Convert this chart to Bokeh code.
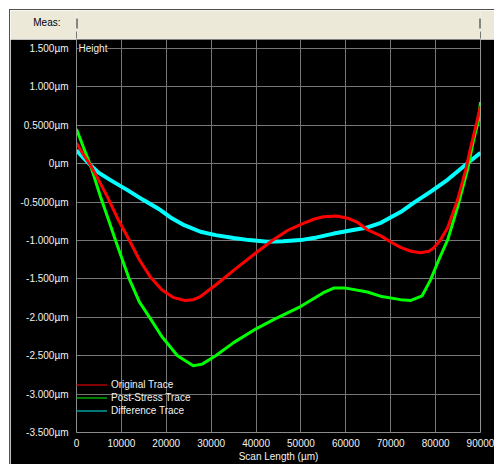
from bokeh.plotting import figure
from bokeh.models import Range1d, FixedTicker, Label, Legend, LegendItem, Span, Spacer
from bokeh.layouts import column, row
from bokeh.embed import file_html
from bokeh.resources import INLINE

# ---------------- data ----------------
orig_x = [0, 1500, 3120, 5000, 6910, 9130, 11800, 14000, 16500, 19000, 21500, 24000, 26000,
          27620, 31000, 35000, 40000, 43600, 47000, 50000, 53000, 55000, 58000, 60400, 62500,
          64800, 67800, 70000, 72200, 74500, 76600, 78500, 79500, 81000, 82700, 84900, 86700,
          87800, 89300, 90000]
orig_y = [0.27, 0.12, -0.02, -0.22, -0.435, -0.71, -1.0, -1.25, -1.48, -1.64, -1.74, -1.78, -1.77,
          -1.73, -1.58, -1.39, -1.16, -1.0, -0.87, -0.79, -0.72, -0.69, -0.68, -0.71, -0.76,
          -0.86, -0.94, -1.02, -1.09, -1.14, -1.16, -1.14, -1.10, -1.0, -0.83, -0.47, -0.08,
          0.21, 0.57, 0.75]

post_x = [0, 1500, 3120, 5350, 7130, 8700, 11600, 14000, 16500, 19000, 22500, 26000, 28000,
          31000, 35000, 40000, 43900, 49900, 55000, 57300, 60000, 64800, 68000, 72200, 74500,
          77000, 78900, 80500, 82700, 84900, 87100, 88450, 89560, 90000]
post_y = [0.45, 0.22, -0.02, -0.43, -0.73, -1.0, -1.48, -1.80, -2.02, -2.25, -2.50, -2.63, -2.61,
          -2.50, -2.33, -2.15, -2.03, -1.86, -1.68, -1.62, -1.62, -1.67, -1.73, -1.77, -1.78,
          -1.72, -1.51, -1.28, -0.99, -0.565, -0.08, 0.305, 0.565, 0.80]

diff_x = [0, 1500, 3120, 5000, 7570, 11360, 14930, 18710, 20940, 24000, 27620, 31000, 35000,
          38500, 42500, 46000, 49900, 53500, 57300, 61000, 64800, 67800, 72200, 75100, 79000,
          82650, 87100, 90000]
diff_y = [0.175, 0.08, -0.02, -0.12, -0.214, -0.344, -0.474, -0.604, -0.70, -0.80, -0.886, -0.93,
          -0.968, -0.995, -1.015, -1.01, -0.995, -0.96, -0.91, -0.87, -0.83, -0.77, -0.63, -0.51,
          -0.36, -0.21, 0.005, 0.14]

series_names = ["Original Trace", "Post-Stress Trace", "Difference Trace"]
x_ticks = [0, 10000, 20000, 30000, 40000, 50000, 60000, 70000, 80000, 90000]
x_tick_labels = ["0", "10000", "20000", "30000", "40000", "50000", "60000", "70000", "80000", "90000"]
y_ticks = [1.5, 1.0, 0.5, 0, -0.5, -1.0, -1.5, -2.0, -2.5, -3.0, -3.5]
y_tick_labels = ["1.500µm", "1.000µm", "0.5000µm", "0µm", "-0.5000µm", "-1.000µm",
                 "-1.500µm", "-2.000µm", "-2.500µm", "-3.000µm", "-3.500µm"]
x_axis_title = "Scan Length (µm)"
y_axis_title = "Height"
meas_label = "Meas:"
meas_positions = [0, 90000]

# ---------------- layout / style ----------------
FONT = "Liberation Sans"
FS = "10px"
PAD = 9          # white window margin (left/top)
W = 494 - PAD - 1
HEAD_H = 29
MAIN_H = 425
LEFT = 66
RIGHT = 14
x0, x1 = x_ticks[0], x_ticks[-1]
BEIGE = "#ECE9D8"
EDGE = "#505050"
GRID = "#767676"
TXT = "#F2F2F2"

# header (beige "Meas:" strip)
head = figure(width=W, height=HEAD_H, output_backend="svg", toolbar_location=None,
              x_range=Range1d(x0, x1), y_range=Range1d(0, HEAD_H),
              x_axis_location=None,
              min_border_left=LEFT, min_border_right=RIGHT, min_border_top=0, min_border_bottom=0,
              background_fill_color=BEIGE, border_fill_color=BEIGE, outline_line_color=None)
head.grid.visible = False
head.yaxis.ticker = FixedTicker(ticks=[17])
head.yaxis.major_label_overrides = {17: meas_label}
head.yaxis.axis_line_color = None
head.yaxis.major_tick_line_color = None
head.yaxis.minor_tick_line_color = None
head.yaxis.major_tick_out = 0
head.yaxis.major_tick_in = 0
head.yaxis.major_label_standoff = 16
head.yaxis.major_label_text_font = FONT
head.yaxis.major_label_text_font_size = FS
head.yaxis.major_label_text_color = "#000000"
head.segment(x0=meas_positions, y0=[11, 11], x1=meas_positions, y1=[21, 21],
             line_color="#202020", line_width=2)
head.segment(x0=meas_positions, y0=[1, 1], x1=meas_positions, y1=[8, 8],
             line_color="#000000", line_width=1)

# main plot
p = figure(width=W, height=MAIN_H, output_backend="svg", toolbar_location=None,
           x_range=Range1d(x0, x1), y_range=Range1d(y_ticks[-1], y_ticks[0] + 0.117),
           min_border_left=LEFT, min_border_right=RIGHT, min_border_top=0, min_border_bottom=31,
           background_fill_color="black", border_fill_color="black", outline_line_color=None)

p.xaxis.ticker = FixedTicker(ticks=x_ticks)
p.xaxis.major_label_overrides = dict(zip(x_ticks, x_tick_labels))
p.yaxis.ticker = FixedTicker(ticks=y_ticks)
p.yaxis.major_label_overrides = dict(zip(y_ticks, y_tick_labels))
for ax in (p.xaxis[0], p.yaxis[0]):
    ax.axis_line_color = "#8C8C8C"
    ax.major_tick_line_color = None
    ax.minor_tick_line_color = None
    ax.major_tick_out = 0
    ax.major_tick_in = 0
    ax.major_label_text_font = FONT
    ax.major_label_text_font_size = FS
    ax.major_label_text_color = TXT
p.yaxis.major_label_standoff = 8
p.xaxis.major_label_standoff = 6
p.xaxis.axis_label = x_axis_title
p.xaxis.axis_label_text_font = FONT
p.xaxis.axis_label_text_font_size = FS
p.xaxis.axis_label_text_font_style = "normal"
p.xaxis.axis_label_text_color = TXT
p.xaxis.axis_label_standoff = 1
p.grid.grid_line_color = GRID
p.grid.grid_line_width = 1

# thin darker copies (used only as legend swatches; hidden under the traces)
leg_colors = ["#B00000", "#00A800", "#00A0A0"]
leg_r = [p.line(xs, ys, line_color=c, line_width=1.5)
         for xs, ys, c in zip([orig_x, post_x, diff_x], [orig_y, post_y, diff_y], leg_colors)]

p.line(diff_x, diff_y, line_color="#00FFFF", line_width=4)
p.line(post_x, post_y, line_color="#00FF00", line_width=3)
p.line(orig_x, orig_y, line_color="#FF0000", line_width=3)

legend = Legend(items=[LegendItem(label=n, renderers=[r]) for n, r in zip(series_names, leg_r)],
                location=(0, 15), background_fill_alpha=0, border_line_alpha=0,
                padding=0, spacing=0, margin=0, label_height=13, glyph_height=13,
                glyph_width=31, label_standoff=4, label_text_font=FONT,
                label_text_font_size=FS, label_text_color=TXT)
p.add_layout(legend)

p.add_layout(Span(location=meas_positions[1], dimension="height", line_color="#E6E6E6", line_width=1))
p.add_layout(Label(x=x0, y=y_ticks[0], x_offset=2, text=y_axis_title, text_baseline="middle",
                   text_font=FONT, text_font_size=FS, text_color=TXT,
                   background_fill_color="black"))

inner = column(Spacer(width=W, height=1, styles={"background-color": EDGE}), head, p, spacing=0)
body = row(Spacer(width=PAD, height=1 + HEAD_H + MAIN_H),
           Spacer(width=1, height=1 + HEAD_H + MAIN_H, styles={"background-color": EDGE}),
           inner, spacing=0)
layout = column(Spacer(width=494, height=PAD), body, spacing=0)
open("out.html", "w").write(file_html(layout, INLINE))
